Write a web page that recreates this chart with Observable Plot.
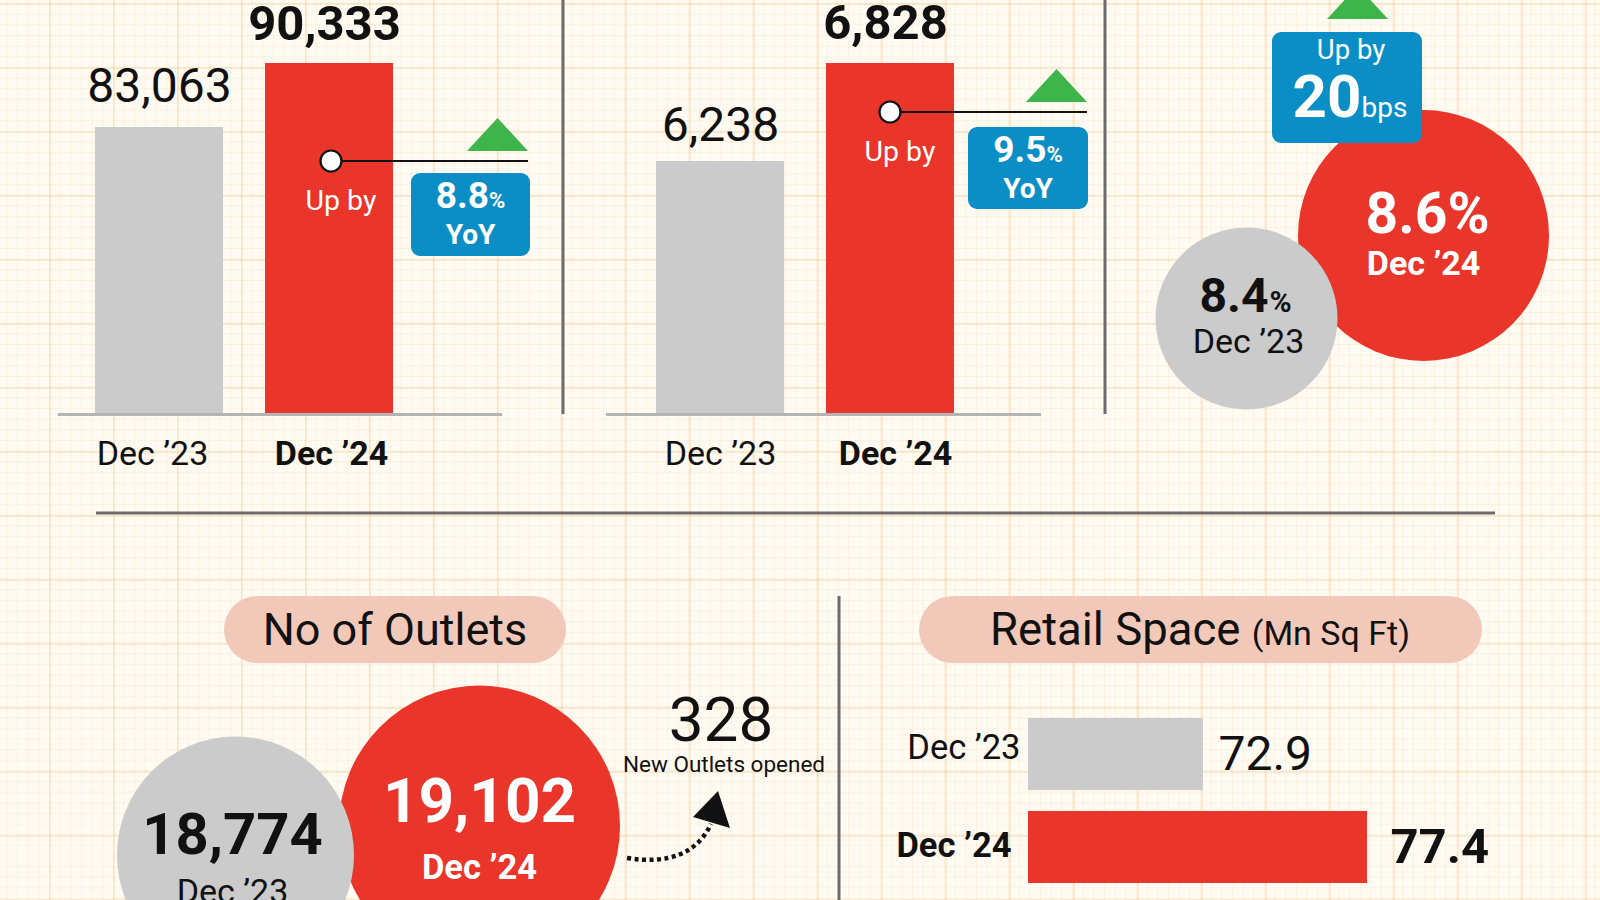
<!DOCTYPE html>
<html>
<head>
<meta charset="utf-8">
<title>Dec ’23 vs Dec ’24</title>
<script src="https://cdn.jsdelivr.net/npm/d3@7"></script>
<script src="https://cdn.jsdelivr.net/npm/@observablehq/plot@0.6"></script>
<style>
  html, body { margin: 0; padding: 0; }
  #stage {
    position: relative; width: 1600px; height: 900px; overflow: hidden;
    font-family: Roboto, "Noto Sans", sans-serif;
    background-color: #fffbf2;
    background-image:
      linear-gradient(90deg, rgba(238,196,132,0.30) 0 2px, transparent 2px),
      linear-gradient(180deg, rgba(238,196,132,0.30) 0 2px, transparent 2px),
      linear-gradient(90deg, rgba(240,204,148,0.20) 0 1px, transparent 1px),
      linear-gradient(180deg, rgba(240,204,148,0.20) 0 1px, transparent 1px);
    background-size: 64px 64px, 64px 64px, 10.667px 10.667px, 10.667px 10.667px;
    background-position: 49px 3px, 49px 3px, 49px 3px, 49px 3px;
  }
  #stage > svg { position: absolute; left: 0; top: 0; }
</style>
</head>
<body>
<div id="stage"></div>
<script>
// ---- data ----------------------------------------------------------------
const periods = ["Dec ’23", "Dec ’24"];
const topLeftValues = [83063, 90333];
const topMiddleValues = [6238, 6828];
const marginValues = [8.4, 8.6];          // per cent
const outletValues = [18774, 19102];
const retailSpaceValues = [72.9, 77.4];   // Mn Sq Ft

// ---- styling -------------------------------------------------------------
const GRAY = "#cbcbcb", RED = "#e9352a", BLUE = "#0b8ec6", GREEN = "#3db54a";
const PEACH = "#f2c9b8", INK = "#111111", RULE = "#6c6c6c";
const FONT = "Roboto, 'Noto Sans', sans-serif";

const fmt = d3.format(",");
const rows = vals => periods.map((period, i) => ({period, value: vals[i]}));
const growth = v => ((v[1] / v[0] - 1) * 100).toFixed(1);
const stage = document.getElementById("stage");
const add = node => stage.appendChild(node);
const color = {domain: periods, range: [GRAY, RED]};
const canvas = {
  width: 1600, height: 900, margin: 0,
  style: {background: "transparent", overflow: "visible", fontFamily: FONT}
};

// ---- section dividers ----------------------------------------------------
const dividers = d3.create("svg").attr("width", 1600).attr("height", 900);
[[563, 0, 563, 414], [1105, 0, 1105, 414], [96, 513, 1495, 513], [839, 596, 839, 900]]
  .forEach(([x1, y1, x2, y2]) => dividers.append("line")
    .attr("x1", x1).attr("y1", y1).attr("x2", x2).attr("y2", y2)
    .attr("stroke", RULE).attr("stroke-width", 3));
add(dividers.node());

// ---- top: two column comparisons -----------------------------------------
function columnPanel(values, {xRange, base, ruleX, valueDx, valueDy, labelDx}) {
  const data = rows(values);
  const first = data.slice(0, 1), last = data.slice(1);
  return Plot.plot({
    ...canvas,
    marginLeft: ruleX[0], marginRight: 1600 - ruleX[1], marginBottom: 900 - 414,
    x: {type: "band", domain: periods, range: xRange, paddingInner: 0.25, paddingOuter: 0, axis: null},
    y: {domain: [base, d3.max(values)], range: [414, 63], axis: null},
    color,
    marks: [
      Plot.barY(data, {x: "period", y1: () => base, y2: "value", fill: "period", inset: 0}),
      Plot.ruleY([base], {stroke: "#b4b4b4", strokeWidth: 3}),
      Plot.text(first, {x: "period", y: "value", text: d => fmt(d.value), dx: valueDx[0], dy: valueDy[0],
        fontSize: 48, fill: INK}),
      Plot.text(last, {x: "period", y: "value", text: d => fmt(d.value), dx: valueDx[1], dy: valueDy[1],
        fontSize: 49, fontWeight: "bold", fill: INK}),
      Plot.text(first, {x: "period", frameAnchor: "bottom", lineAnchor: "middle", text: "period",
        dx: labelDx[0], dy: 40, fontSize: 34, fill: INK}),
      Plot.text(last, {x: "period", frameAnchor: "bottom", lineAnchor: "middle", text: "period",
        dx: labelDx[1], dy: 40, fontSize: 34, fontWeight: "bold", fill: INK})
    ]
  });
}

add(columnPanel(topLeftValues, {
  xRange: [94, 393], base: 50460, ruleX: [58, 502],
  valueDx: [0, -5], valueDy: [-41, -39], labelDx: [-7, 2]
}));
add(columnPanel(topMiddleValues, {
  xRange: [656, 954], base: 4715, ruleX: [606, 1041],
  valueDx: [0, -5], valueDy: [-36, -40], labelDx: [0, 5]
}));

// ---- top right: margin bubbles -------------------------------------------
{
  const data = rows(marginValues);
  const first = data.slice(0, 1), last = data.slice(1);
  add(Plot.plot({
    ...canvas,
    x: {type: "point", domain: periods, range: [1246, 1423], padding: 0, axis: null},
    y: {domain: d3.extent(marginValues), range: [318, 235], axis: null},
    r: {type: "linear", domain: d3.extent(marginValues), range: [91, 125.5]},
    color,
    marks: [
      Plot.dot(data, {x: "period", y: "value", r: "value", fill: "period"}),
      Plot.text(first, {x: "period", y: "value", text: d => d.value.toFixed(1), textAnchor: "end",
        dx: 22, dy: -22, fontSize: 48, fontWeight: "bold", fill: INK}),
      Plot.text(first, {x: "period", y: "value", text: () => "%", textAnchor: "start",
        dx: 23, dy: -16, fontSize: 30, fontWeight: "bold", fill: INK}),
      Plot.text(first, {x: "period", y: "value", text: "period", dx: 2, dy: 24, fontSize: 34, fill: INK}),
      Plot.text(last, {x: "period", y: "value", text: d => d.value.toFixed(1) + "%",
        dx: 4, dy: -21, fontSize: 57, fontWeight: "bold", fill: "white"}),
      Plot.text(last, {x: "period", y: "value", text: "period", dy: 29, fontSize: 34, fontWeight: "bold", fill: "white"})
    ]
  }));
}

// ---- bottom left: outlet bubbles -----------------------------------------
{
  const data = rows(outletValues);
  const first = data.slice(0, 1), last = data.slice(1);
  add(Plot.plot({
    ...canvas,
    x: {type: "point", domain: periods, range: [234.5, 478.5], padding: 0, axis: null},
    y: {domain: d3.extent(outletValues), range: [854.5, 825.5], axis: null},
    r: {type: "linear", domain: d3.extent(outletValues), range: [118.5, 140.5]},
    color,
    marks: [
      Plot.dot(data, {x: "period", y: "value", r: "value", fill: "period"}),
      Plot.text(first, {x: "period", y: "value", text: d => fmt(d.value), dx: -3, dy: -20,
        fontSize: 58, fontWeight: "bold", fill: INK}),
      Plot.text(first, {x: "period", y: "value", text: "period", dx: -3, dy: 37, fontSize: 34, fill: INK}),
      Plot.text(last, {x: "period", y: "value", text: d => fmt(d.value), dy: -24,
        fontSize: 62, fontWeight: "bold", fill: "white"}),
      Plot.text(last, {x: "period", y: "value", text: "period", dy: 42, fontSize: 34.5, fontWeight: "bold", fill: "white"})
    ]
  }));
}

// ---- bottom right: retail space bars -------------------------------------
{
  const data = rows(retailSpaceValues);
  const first = data.slice(0, 1), last = data.slice(1);
  const base = 68.1;
  add(Plot.plot({
    ...canvas,
    x: {domain: [base, d3.max(retailSpaceValues)], range: [1028, 1367], axis: null},
    y: {type: "band", domain: periods, range: [718, 883], paddingInner: 0.226, paddingOuter: 0, axis: null},
    color,
    marks: [
      Plot.barX(data, {y: "period", x1: () => base, x2: "value", fill: "period", inset: 0}),
      Plot.text(first, {y: "period", x: () => base, text: "period", textAnchor: "end",
        dx: -8, dy: -7, fontSize: 34.5, fill: INK}),
      Plot.text(last, {y: "period", x: () => base, text: "period", textAnchor: "end",
        dx: -17, dy: -2, fontSize: 34.5, fontWeight: "bold", fill: INK}),
      Plot.text(first, {y: "period", x: "value", text: d => d.value.toFixed(1), textAnchor: "start",
        dx: 15, fontSize: 48, fill: INK}),
      Plot.text(last, {y: "period", x: "value", text: d => d.value.toFixed(1), textAnchor: "start",
        dx: 23, fontSize: 49, fontWeight: "bold", fill: INK})
    ]
  }));
}

// ---- callouts, headings and arrow ----------------------------------------
const ann = d3.create("svg").attr("width", 1600).attr("height", 900).style("font-family", FONT);

function label(x, y, parts, anchor = "middle") {
  const t = ann.append("text").attr("x", x).attr("y", y).attr("text-anchor", anchor);
  parts.forEach(([s, size, weight = 400, fill = INK]) =>
    t.append("tspan").text(s).attr("font-size", size).attr("font-weight", weight).attr("fill", fill));
  return t;
}
function triangle(x0, x1, yBase, h) {
  ann.append("path")
    .attr("d", `M${x0},${yBase}L${(x0 + x1) / 2},${yBase - h}L${x1},${yBase}Z`)
    .attr("fill", GREEN);
}
function badgeBox(x, y, w, h) {
  ann.append("rect").attr("x", x).attr("y", y).attr("width", w).attr("height", h)
    .attr("rx", 9).attr("fill", BLUE);
}
function leader(cx, cy, x2) {
  ann.append("line").attr("x1", cx).attr("y1", cy).attr("x2", x2).attr("y2", cy)
    .attr("stroke", INK).attr("stroke-width", 2.2);
  ann.append("circle").attr("cx", cx).attr("cy", cy).attr("r", 10.5)
    .attr("fill", "white").attr("stroke", INK).attr("stroke-width", 2.2);
}

// year-on-year callouts on the two column charts
[
  {values: topLeftValues, dot: [331, 161], end: 528, upBy: [341, 210], box: [411, 173, 119, 83]},
  {values: topMiddleValues, dot: [890, 112], end: 1087, upBy: [900, 161], box: [968, 127, 120, 82]}
].forEach(({values, dot, end, upBy, box}) => {
  leader(dot[0], dot[1], end);
  triangle(end - 61, end, dot[1] - 10, 33);
  label(upBy[0], upBy[1], [["Up by", 28.5, 400, "white"]]);
  const [bx, by, bw, bh] = box;
  badgeBox(bx, by, bw, bh);
  label(bx + bw / 2, by + 35, [[growth(values), 37, 700, "white"], ["%", 22, 700, "white"]]);
  label(bx + bw / 2, by + 70.5, [["YoY", 28, 700, "white"]]);
});

// basis-point change on the margin bubbles
triangle(1327, 1388, 19, 33);
badgeBox(1272, 32, 150, 111);
label(1351, 59, [["Up by", 27.5, 400, "white"]]);
label(1350, 117, [[String(Math.round((marginValues[1] - marginValues[0]) * 100)), 60, 700, "white"],
                  ["bps", 28, 400, "white"]]);

// section headings
ann.append("rect").attr("x", 224).attr("y", 596).attr("width", 342).attr("height", 67)
  .attr("rx", 33.5).attr("fill", PEACH);
label(395, 645, [["No of Outlets", 45]]);
ann.append("rect").attr("x", 919).attr("y", 596).attr("width", 563).attr("height", 67)
  .attr("rx", 33.5).attr("fill", PEACH);
label(1200, 645, [["Retail Space ", 45.5], ["(Mn Sq Ft)", 34]]);

// net new outlets
label(721, 741, [[String(outletValues[1] - outletValues[0]), 62]]);
label(724, 772, [["New Outlets opened", 22.5]]);
ann.append("path").attr("d", "M627,858Q690,868 711,824")
  .attr("fill", "none").attr("stroke", INK).attr("stroke-width", 4.5).attr("stroke-dasharray", "4 3.5");
ann.append("path").attr("d", "M693,817L718,791L730,828Z").attr("fill", INK);

add(ann.node());
</script>
</body>
</html>
